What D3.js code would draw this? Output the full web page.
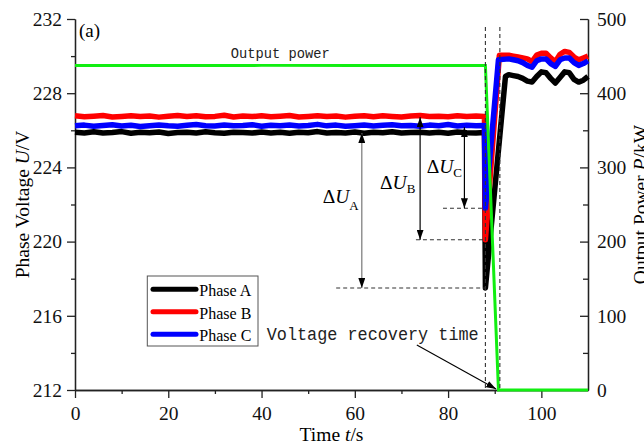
<!DOCTYPE html>
<html>
<head>
<meta charset="utf-8">
<script src="https://cdn.jsdelivr.net/npm/d3@7"></script>
<style>
  body { margin: 0; background: #fff; }
  svg { display: block; font-family: "Liberation Serif", "Times New Roman", serif; }
  .axis path, .axis line { stroke: #222; stroke-width: 1.3; }
  .axis text { font-family: "Liberation Serif", serif; font-size: 19.5px; fill: #111; }
  .mono { font-family: "Liberation Mono", "DejaVu Sans Mono", monospace; fill: #222; }
</style>
</head>
<body>
<svg id="chart" width="644" height="444"></svg>
<script>
// steady state before the fault (s)
const tSteady = [0,2,4,6,8,10,12,14,16,18,20,22,24,26,28,30,32,34,36,38,40,42,44,46,48,50,52,54,56,58,60,62,64,66,68,70,72,74,76,78,80,82,84,86,87.8];
const phaseA = [225.90,225.86,225.92,225.85,225.88,225.93,225.84,225.89,225.87,225.91,225.83,225.88,225.90,225.86,225.92,225.87,225.84,225.90,225.88,225.85,225.91,225.86,225.89,225.84,225.90,225.87,225.93,225.85,225.88,225.86,225.91,225.84,225.89,225.87,225.92,225.85,225.88,225.90,225.86,225.89,225.84,225.91,225.87,225.86,225.88];
const phaseB = [226.78,226.73,226.76,226.80,226.72,226.75,226.79,226.74,226.77,226.71,226.76,226.80,226.74,226.78,226.73,226.75,226.81,226.72,226.77,226.74,226.79,226.73,226.76,226.80,226.72,226.75,226.78,226.74,226.77,226.71,226.76,226.79,226.73,226.78,226.75,226.72,226.77,226.80,226.74,226.76,226.73,226.79,226.75,226.77,226.74];
const phaseC = [226.24,226.28,226.22,226.26,226.30,226.23,226.27,226.21,226.25,226.29,226.24,226.22,226.27,226.31,226.25,226.23,226.28,226.24,226.26,226.30,226.22,226.27,226.25,226.29,226.23,226.26,226.32,226.24,226.28,226.22,226.25,226.29,226.23,226.27,226.30,226.24,226.26,226.22,226.28,226.25,226.31,226.23,226.27,226.24,226.26];

// dip and rise: [time, voltage]
const transA = [[88.0, 217.5], [92.3, 228.9]];
const transB = [[88.0, 220.1], [91.0, 230.05]];
const transC = [[88.0, 221.8], [90.8, 229.8]];

// after recovery
const tRecovery = [93,94,95,96,97,98,99,100,101,102,103,104,105,106,107,108,109,110];
const recA = [229.0,228.95,228.9,228.8,228.65,228.6,228.9,229.15,229.1,228.8,228.55,228.85,229.15,229.1,228.75,228.6,228.7,228.9];
const recB = [230.05,230.0,229.95,229.9,229.85,229.7,230.05,230.15,230.15,229.9,229.7,230.1,230.25,230.2,229.95,229.8,229.9,230.0];
const recC = [229.85,229.8,229.75,229.65,229.5,229.4,229.75,229.85,229.85,229.6,229.45,229.8,229.9,229.9,229.65,229.5,229.6,229.75];

// output power (kW)
const tPower = [0,20,40,60,80,88,90.8,100,110];
const power = [437.4,437.2,437.5,437.2,437.4,437.3,0,0,0];

const phaseNames = ["Phase A", "Phase B", "Phase C"];
const phaseColors = ["#000000", "#ff0000", "#0000ff"];

const xTicks = [0,20,40,60,80,100];
const xMinor = [10,30,50,70,90];
const yTicks = [212,216,220,224,228,232];
const yMinor = [214,218,222,226,230];
const pTicks = [0,100,200,300,400,500];
const pMinor = [50,150,250,350,450];

const svg = d3.select("#chart");
const x = d3.scaleLinear().domain([0, 110]).range([75, 588]);
const y = d3.scaleLinear().domain([212, 232]).range([390, 19]);
const yP = d3.scaleLinear().domain([0, 500]).range([390, 19]);

function build(ts, vs, trans, tr, rv) {
  return ts.map((t, i) => [t, vs[i]]).concat(trans).concat(tr.map((t, i) => [t, rv[i]]));
}
const series = [
  build(tSteady, phaseA, transA, tRecovery, recA),
  build(tSteady, phaseB, transB, tRecovery, recB),
  build(tSteady, phaseC, transC, tRecovery, recC)
];

function axisG(tf, ax) {
  const g = svg.append("g").attr("class", "axis").attr("transform", tf).call(ax);
  g.attr("font-family", null).attr("font-size", null);
  g.selectAll("text").attr("font-family", "Liberation Serif, serif").attr("font-size", 19.5).attr("fill", "#111");
  return g;
}

// axes
axisG("translate(0,390)", d3.axisBottom(x).tickValues(xMinor).tickSize(4).tickSizeOuter(0).tickFormat(""));
axisG("translate(0,390)", d3.axisBottom(x).tickValues(xTicks).tickSize(8).tickSizeOuter(0).tickPadding(8));
axisG("translate(75,0)", d3.axisLeft(y).tickValues(yMinor).tickSize(4).tickSizeOuter(0).tickFormat(""));
axisG("translate(75,0)", d3.axisLeft(y).tickValues(yTicks).tickSize(8).tickSizeOuter(0).tickPadding(5));
axisG("translate(588,0)", d3.axisRight(yP).tickValues(pMinor).tickSize(-5).tickSizeOuter(0).tickFormat(""));
axisG("translate(588,0)", d3.axisRight(yP).tickValues(pTicks).tickSize(-8).tickSizeOuter(0).tickPadding(9));

// axis titles
const tl = svg.append("text").attr("transform", "translate(29,204.5) rotate(-90)")
  .attr("text-anchor", "middle").attr("font-size", 19.5);
tl.append("tspan").text("Phase Voltage ");
tl.append("tspan").attr("font-style", "italic").text("U");
tl.append("tspan").text("/V");

const tr = svg.append("text").attr("transform", "translate(646.5,204.5) rotate(-90)")
  .attr("text-anchor", "middle").attr("font-size", 19.5);
tr.append("tspan").text("Output Power ");
tr.append("tspan").attr("font-style", "italic").text("P");
tr.append("tspan").text("/kW");

const tb = svg.append("text").attr("x", 331.5).attr("y", 441)
  .attr("text-anchor", "middle").attr("font-size", 19.5);
tb.append("tspan").text("Time ");
tb.append("tspan").attr("font-style", "italic").text("t");
tb.append("tspan").text("/s");

svg.append("text").attr("x", 79).attr("y", 37).attr("font-size", 19).text("(a)");

// voltage lines
const line = d3.line().x(d => x(d[0])).y(d => y(d[1]));
series.forEach((s, i) => {
  svg.append("path").datum(s)
    .attr("fill", "none").attr("stroke", phaseColors[i]).attr("stroke-width", 5.5)
    .attr("stroke-linejoin", "round").attr("d", line);
});

// power line
const pLine = d3.line().x((d, i) => x(tPower[i])).y(d => yP(d));
svg.append("path").datum(power)
  .attr("fill", "none").attr("stroke", "#11ee11").attr("stroke-width", 3)
  .attr("d", pLine);

// dashed verticals
[88, 91.1].forEach(t => {
  svg.append("line").attr("x1", x(t)).attr("x2", x(t)).attr("y1", y(231.57)).attr("y2", 390)
    .attr("stroke", "#333").attr("stroke-width", 1.1).attr("stroke-dasharray", "4,3");
});

// markers
const defs = svg.append("defs");
defs.append("marker").attr("id", "arr").attr("viewBox", "0 0 10 7")
  .attr("refX", 10).attr("refY", 3.5).attr("markerWidth", 10).attr("markerHeight", 7)
  .attr("markerUnits", "userSpaceOnUse").attr("orient", "auto-start-reverse")
  .append("path").attr("d", "M0,0L10,3.5L0,7z").attr("fill", "#000");

// delta U annotations
const deltas = [
  { t: 61.5, top: 225.85, bottom: 217.5, from: 56, sub: "A", lx: 322.7, ly: 203, sy: 7, col: "#777" },
  { t: 74.0, top: 226.7, bottom: 220.1, from: 73.1, sub: "B", lx: 380, ly: 189.3, sy: 4, col: "#000" },
  { t: 83.5, top: 226.16, bottom: 221.8, from: 78.9, sub: "C", lx: 426.7, ly: 173.3, sy: 4, col: "#000" }
];
deltas.forEach(d => {
  svg.append("line").attr("x1", x(d.from)).attr("x2", x(88)).attr("y1", y(d.bottom)).attr("y2", y(d.bottom))
    .attr("stroke", "#333").attr("stroke-width", 1.1).attr("stroke-dasharray", "4,3");
  svg.append("line").attr("x1", x(d.t)).attr("x2", x(d.t)).attr("y1", y(d.top)).attr("y2", y(d.bottom))
    .attr("stroke", d.col).attr("stroke-width", 1.2)
    .attr("marker-start", "url(#arr)").attr("marker-end", "url(#arr)");
  const tx = svg.append("text").attr("x", d.lx).attr("y", d.ly).attr("font-size", 19.5);
  tx.append("tspan").text("\u0394");
  tx.append("tspan").attr("font-style", "italic").text("U");
  tx.append("tspan").attr("font-size", 13).attr("dy", d.sy).text(d.sub);
});

// text labels
svg.append("text").attr("class", "mono").attr("x", 230.7).attr("y", 58)
  .attr("font-size", 14.5).attr("textLength", 99).attr("lengthAdjust", "spacingAndGlyphs")
  .text("Output power");
svg.append("text").attr("class", "mono").attr("x", 266.7).attr("y", 340)
  .attr("font-size", 17.5).attr("textLength", 212).attr("lengthAdjust", "spacingAndGlyphs")
  .text("Voltage recovery time");
svg.append("line")
  .attr("x1", x(73.3)).attr("y1", y(214.43)).attr("x2", x(90.3)).attr("y2", y(212.05))
  .attr("stroke", "#000").attr("stroke-width", 1.1).attr("marker-end", "url(#arr)");

// legend
const lg = svg.append("g");
lg.append("rect").attr("x", 147.3).attr("y", 276).attr("width", 110.7).attr("height", 70)
  .attr("fill", "#fff").attr("stroke", "#555").attr("stroke-width", 1);
phaseNames.forEach((n, i) => {
  const yy = 289.3 + i * 22.5;
  lg.append("line").attr("x1", 153).attr("x2", 196).attr("y1", yy).attr("y2", yy)
    .attr("stroke", phaseColors[i]).attr("stroke-width", 5).attr("stroke-linecap", "round");
  lg.append("text").attr("x", 199.3).attr("y", yy + 6.7).attr("font-size", 16).text(n);
});
</script>
</body>
</html>
